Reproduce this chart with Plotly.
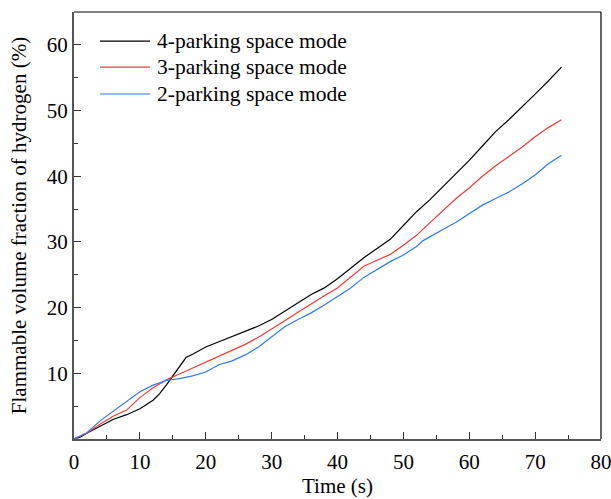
import plotly.graph_objects as go

t_black = [0, 1, 2, 4, 6, 8, 10, 12, 13, 14, 15, 16, 17, 18, 20, 22, 24, 26, 28, 30, 32, 34, 36, 38, 40, 42, 44, 46, 48, 50, 52, 54, 56, 58, 60, 62, 64, 66, 68, 70, 72, 74]
v_black = [0, 0.3, 0.9, 2.0, 3.0, 3.7, 4.6, 5.9, 6.9, 8.2, 9.6, 11.0, 12.4, 12.9, 14.0, 14.8, 15.6, 16.4, 17.2, 18.2, 19.5, 20.8, 22.0, 23.0, 24.4, 26.0, 27.6, 29.0, 30.4, 32.5, 34.6, 36.4, 38.4, 40.4, 42.4, 44.6, 46.8, 48.6, 50.5, 52.5, 54.5, 56.6]

t_red = [0, 2, 4, 6, 8, 10, 12, 14, 16, 18, 20, 22, 24, 26, 28, 30, 32, 34, 36, 38, 40, 42, 44, 46, 48, 50, 52, 54, 56, 58, 60, 62, 64, 66, 68, 70, 72, 74]
v_red = [0, 0.9, 2.3, 3.5, 4.4, 6.3, 7.8, 9.0, 9.9, 10.8, 11.6, 12.5, 13.4, 14.4, 15.5, 16.7, 18.0, 19.3, 20.6, 21.8, 23.0, 24.7, 26.3, 27.2, 28.1, 29.5, 31.0, 32.9, 34.8, 36.6, 38.2, 40.0, 41.6, 43.0, 44.4, 46.0, 47.4, 48.6]

t_blue = [0, 2, 4, 6, 8, 10, 12, 14, 16, 18, 20, 22, 24, 26, 28, 30, 32, 34, 36, 38, 40, 42, 44, 46, 48, 50, 52, 53, 54, 56, 58, 60, 62, 64, 66, 68, 70, 72, 74]
v_blue = [0, 1.0, 2.8, 4.3, 5.8, 7.2, 8.2, 8.9, 9.2, 9.6, 10.2, 11.3, 11.9, 12.8, 14.0, 15.5, 17.1, 18.2, 19.2, 20.4, 21.7, 23.0, 24.6, 25.8, 27.0, 28.0, 29.3, 30.2, 30.8, 31.9, 33.0, 34.3, 35.6, 36.6, 37.6, 38.8, 40.2, 41.9, 43.2]

series_names = ["4-parking space mode", "3-parking space mode", "2-parking space mode"]
series_t = [t_black, t_red, t_blue]
series_v = [v_black, v_red, v_blue]
series_colors = ["#000000", "#f23a3a", "#2f7be8"]

x_ticks = [0, 10, 20, 30, 40, 50, 60, 70, 80]
y_ticks = [10, 20, 30, 40, 50, 60]

FONT = "Liberation Serif, Times New Roman, serif"
FS = 21

fig = go.Figure()
for name, t, v, c in zip(series_names, series_t, series_v, series_colors):
    fig.add_trace(go.Scatter(x=t, y=v, mode="lines", name=name, showlegend=False,
                             line=dict(color=c, width=1.2)))

axis_common = dict(
    showgrid=False, zeroline=False, showline=True, linecolor="#555555", linewidth=2,
    ticks="inside", ticklen=7, tickwidth=1.2, tickcolor="#333333", automargin=False,
    ticklabeloverflow="allow",
    tickfont=dict(family=FONT, size=FS, color="#000000"),
)

fig.update_xaxes(range=[0, 80], tickvals=x_ticks, ticklabelstandoff=3,
                 title=dict(text="Time (s)", font=dict(family=FONT, size=FS, color="#000"), standoff=5),
                 minor=dict(ticks="inside", ticklen=4, tickwidth=1.2, tickcolor="#333333", dtick=5, tick0=0),
                 **axis_common)
fig.update_yaxes(range=[0, 65], tickvals=y_ticks,
                 title=dict(text="Flammable volume fraction of hydrogen (%)", font=dict(family=FONT, size=FS, color="#000"), standoff=14),
                 minor=dict(ticks="inside", ticklen=4, tickwidth=1.2, tickcolor="#333333", dtick=5, tick0=0),
                 **axis_common)

# top and right frame lines
fig.add_shape(type="line", xref="paper", yref="paper", x0=0, x1=1, y0=1, y1=1,
              line=dict(color="#000", width=1.2))
fig.add_shape(type="line", xref="paper", yref="paper", x0=1, x1=1, y0=0, y1=1,
              line=dict(color="#000", width=1.2))

# legend (drawn manually for spacing control)
leg_x0, leg_x1, leg_tx = 0.0493, 0.1442, 0.1537
leg_rows = [0.932, 0.871, 0.808]
for name, c, yy in zip(series_names, series_colors, leg_rows):
    fig.add_shape(type="line", xref="paper", yref="paper", x0=leg_x0, x1=leg_x1, y0=yy, y1=yy,
                  line=dict(color=c, width=1.2))
    fig.add_annotation(xref="paper", yref="paper", x=leg_tx, y=yy, text=name, showarrow=False,
                       xanchor="left", yanchor="middle",
                       font=dict(family=FONT, size=21.5, color="#000"))

fig.update_layout(
    width=611, height=499,
    margin=dict(l=74, r=10, t=12, b=60),
    plot_bgcolor="#ffffff", paper_bgcolor="#ffffff",
    font=dict(family=FONT, size=FS, color="#000"),
    showlegend=False,
)

fig.write_html("out.html")
